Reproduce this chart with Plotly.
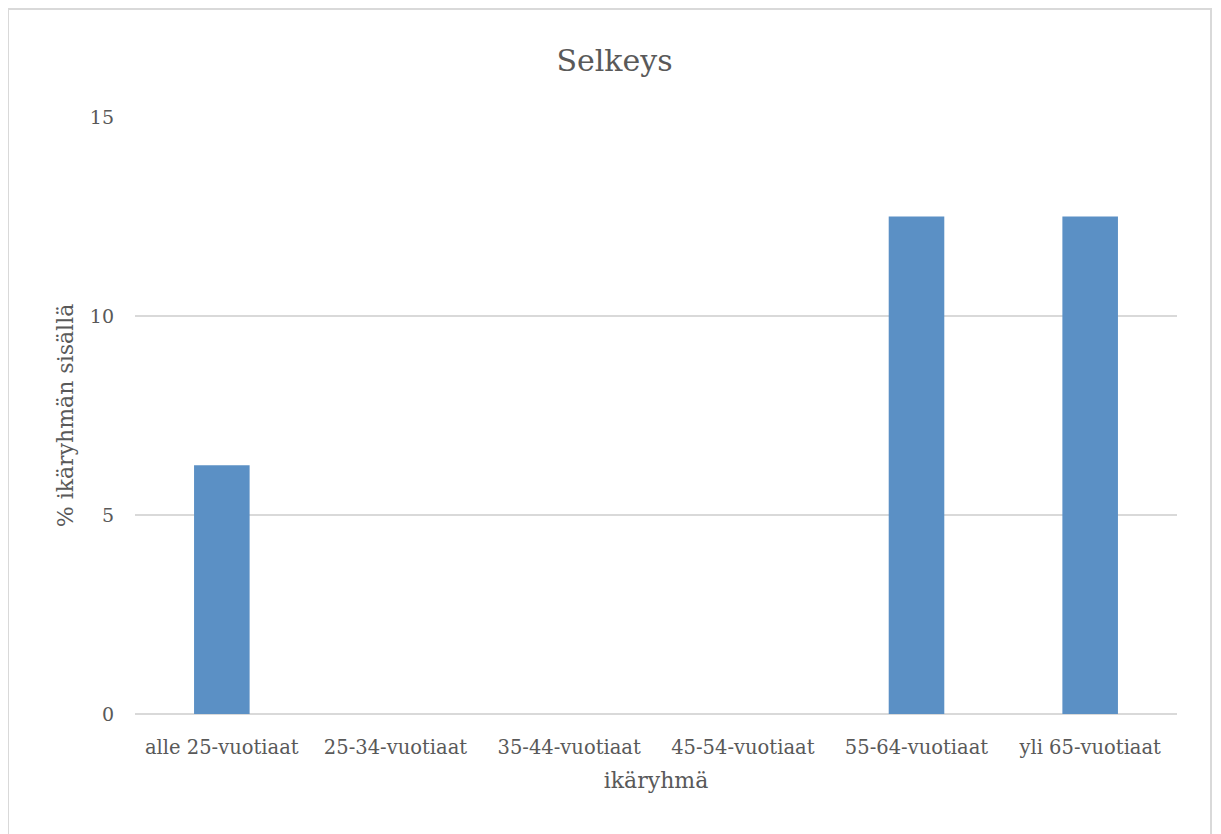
import plotly.graph_objects as go

categories = ["alle 25-vuotiaat", "25-34-vuotiaat", "35-44-vuotiaat",
              "45-54-vuotiaat", "55-64-vuotiaat", "yli 65-vuotiaat"]
values = [6.25, 0, 0, 0, 12.5, 12.5]
y_ticks = [0, 5, 10, 15]

# page has an 8px body margin; work in figure coordinates
OFF = 8
W, H = 1221 - OFF, 834 - OFF
L, R, T, B = 135 - OFF, 1177 - OFF, 117 - OFF, 714 - OFF
pw, ph = R - L, B - T

def px_x(x):
    return (x - OFF - L) / pw

def px_y(y):
    return (B - (y - OFF)) / ph

FONT = "DejaVu Serif"
TXT = "#595959"
GRID = "#d9d9d9"

fig = go.Figure(go.Bar(
    x=categories, y=values,
    marker=dict(color="#5b90c5", line=dict(width=0)),
    width=0.32,
))

fig.update_layout(
    width=W, height=H,
    margin=dict(l=L, r=W - R, t=T, b=H - B, autoexpand=False),
    paper_bgcolor="white", plot_bgcolor="white",
    showlegend=False,
    title=dict(text="Selkeys", x=0.5, xanchor="center", y=1 - (60 - OFF) / H, yanchor="middle",
               font=dict(family=FONT, size=30, color=TXT)),
    font=dict(family=FONT, color=TXT),
    xaxis=dict(
        title=dict(text="ikäryhmä", font=dict(family=FONT, size=22, color=TXT), standoff=15),
        tickfont=dict(family=FONT, size=19.5, color=TXT),
        ticklabelstandoff=19,
        showgrid=False, showline=False, zeroline=False, ticks="",
        range=[-0.5, 5.5],
    ),
    yaxis=dict(
        title=dict(text="% ikäryhmän sisällä", font=dict(family=FONT, size=22, color=TXT), standoff=10),
        tickfont=dict(family=FONT, size=19, color=TXT),
        ticklabelstandoff=20,
        range=[0, 15], tickvals=y_ticks, ticktext=[str(v) for v in y_ticks],
        showgrid=True, gridcolor=GRID, gridwidth=2,
        zeroline=True, zerolinecolor=GRID, zerolinewidth=2,
        showline=False, ticks="", ticklen=0,
    ),
    shapes=[dict(type="rect", xref="paper", yref="paper",
                 x0=px_x(8), x1=px_x(1211), y0=px_y(900), y1=px_y(9),
                 line=dict(color=GRID, width=2), fillcolor="rgba(0,0,0,0)", layer="below")],
)
fig.update_xaxes(automargin=False)
fig.update_yaxes(automargin=False)

fig.write_html("out.html")
